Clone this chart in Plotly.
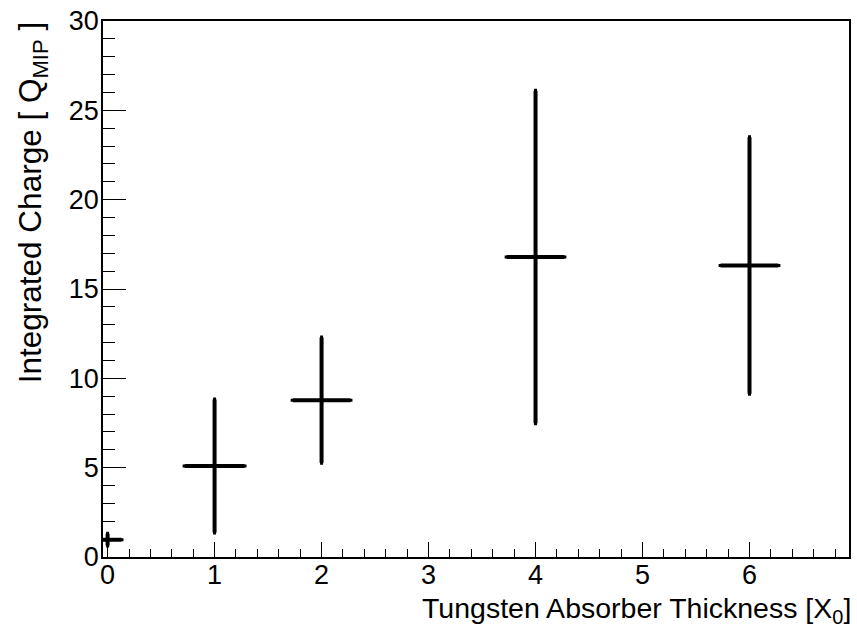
import plotly.graph_objects as go

# Data
thickness_x0 = [0, 1, 2, 4, 6]
charge_qmip = [0.97, 5.09, 8.78, 16.79, 16.32]
charge_err = [0.33, 3.72, 3.5, 9.3, 7.18]
thickness_err = [0.13, 0.28, 0.27, 0.27, 0.27]

x_title = "Tungsten Absorber Thickness [X<sub>0</sub>]"
y_title = "Integrated Charge [ Q<sub>MIP</sub> ]"

W, H = 857, 635
ML, MR, MT, MB = 103, 6, 21, 78
PW = W - ML - MR
PH = H - MT - MB

fig = go.Figure()
fig.add_trace(go.Scatter(
    x=thickness_x0, y=charge_qmip, mode="markers",
    marker=dict(size=1, color="black"),
    error_y=dict(type="data", array=charge_err, visible=True,
                 color="black", thickness=4, width=1.5),
    error_x=dict(type="data", array=thickness_err, visible=True,
                 color="black", thickness=4, width=1.5),
    showlegend=False, cliponaxis=True,
))

font_family = "Liberation Sans, Arial, sans-serif"

fig.update_layout(
    width=W, height=H,
    margin=dict(l=ML, r=MR, t=MT, b=MB, pad=0),
    paper_bgcolor="white", plot_bgcolor="white",
    font=dict(family=font_family, color="black", size=27),
    xaxis=dict(
        range=[-0.043, 6.93], tickmode="linear", tick0=0, dtick=1,
        ticks="inside", ticklen=15, tickwidth=1, tickcolor="black",
        minor=dict(ticks="inside", ticklen=8, dtick=0.2, tick0=0,
                   tickcolor="black", tickwidth=1),
        showline=True, linecolor="black", linewidth=1.5, mirror=True,
        showgrid=False, zeroline=False,
        tickfont=dict(size=27), ticklabelstandoff=-7,
    ),
    yaxis=dict(
        range=[0, 30], tickmode="linear", tick0=0, dtick=5,
        ticks="inside", ticklen=23, tickwidth=1, tickcolor="black",
        minor=dict(ticks="inside", ticklen=12, dtick=1, tick0=0,
                   tickcolor="black", tickwidth=1),
        showline=True, linecolor="black", linewidth=1.5, mirror=True,
        showgrid=False, zeroline=False,
        tickfont=dict(size=27), ticklabelstandoff=-3,
    ),
    annotations=[
        dict(text=x_title, xref="paper", yref="paper",
             x=(854 - ML) / PW, y=-(591 - (H - MB)) / PH,
             xanchor="right", yanchor="top", showarrow=False,
             borderpad=0, font=dict(size=28.5)),
        dict(text=y_title, xref="paper", yref="paper",
             x=(11 - ML) / PW, y=1.0,
             xanchor="left", yanchor="top", showarrow=False,
             borderpad=0, textangle=-90, font=dict(size=31.5)),
    ],
)

fig.write_html("out.html")
